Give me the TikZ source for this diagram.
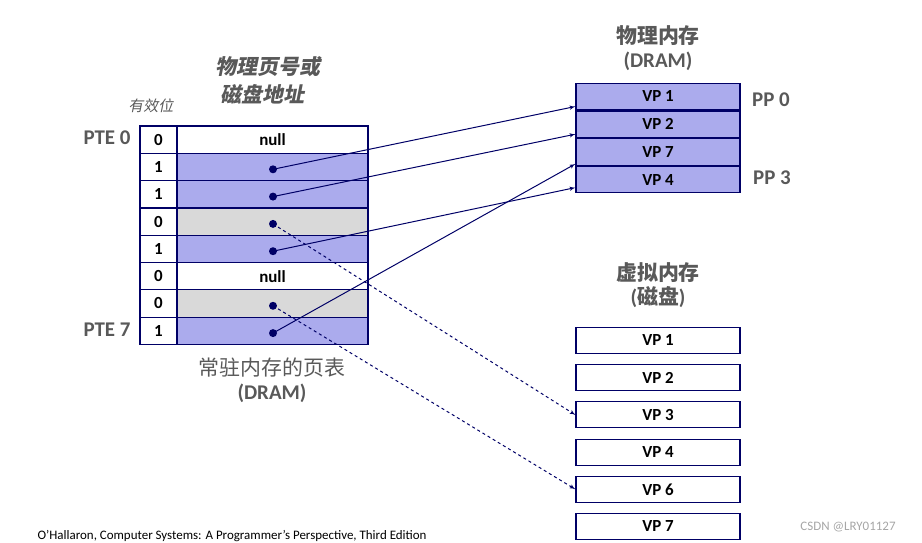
\documentclass[tikz,border=0pt]{standalone}
\usepackage{fontspec}
\setmainfont{Carlito}
\newfontfamily\cjk{Noto Sans CJK SC}
\usetikzlibrary{arrows,shapes,positioning}
\definecolor{vpfill}{rgb}{0.67,0.67,0.93}
\definecolor{swfill}{rgb}{0.85,0.85,0.85}
\definecolor{linkcol}{rgb}{0.0,0.0,0.4}
\definecolor{txtcol}{rgb}{0.35,0.35,0.35}
\tikzset{
  cell/.style={draw=linkcol,line width=1.2pt,minimum height=27.3bp,inner sep=0pt,font=\bfseries\fontsize{17}{19}\selectfont},
  bit/.style={cell,minimum width=37bp},
  entry/.style={cell,minimum width=191bp},
  page/.style={cell,minimum width=164bp,minimum height=26.5bp},
  disk/.style={cell,fill=white,minimum width=164bp,minimum height=26bp},
  caption/.style={text=txtcol,font=\bfseries\fontsize{21}{24}\selectfont,align=center},
  link/.style={->,>=latex',draw=linkcol,line width=1pt},
  dot/.style={circle,fill=linkcol,inner sep=0pt,minimum size=8bp}
}
\begin{document}
\begin{tikzpicture}[x=1bp,y=-1bp]
\useasboundingbox (0,0) rectangle (922,543);

% Node: page table
\foreach \i/\b/\f/\t in {0/0/white/null,1/1/vpfill/,2/1/vpfill/,3/0/swfill/,4/1/vpfill/,5/0/white/null,6/0/swfill/,7/1/vpfill/} {
  \node[bit] (b\i) at (158.5,139.7+27.3*\i) {\b};
  \node[entry,fill=\f] (e\i) at (272.5,139.7+27.3*\i) {\t};
}
\foreach \i in {1,2,3,4,6,7} \node[dot] (d\i) at (273,142+27.3*\i) {};

% Node: DRAM
\node[page,fill=vpfill] (m0) at (658,96.5) {VP 1};
\node[page,fill=vpfill,below=0pt of m0] (m1) {VP 2};
\node[page,fill=vpfill,below=0pt of m1] (m2) {VP 7};
\node[page,fill=vpfill,below=0pt of m2] (m3) {VP 4};

% Node: disk
\foreach \i/\v in {0/1,1/2,2/3,3/4,4/6,5/7}
  \node[disk] (s\i) at (658,340.5+37.2*\i) {VP \v};

% Labels
\node[caption] at (107,138) {PTE 0};
\node[caption] at (107,330) {PTE 7};
\node[caption] at (771,100) {PP 0};
\node[caption] at (772,178) {PP 3};
\node[text=txtcol,font=\cjk\bfseries\fontsize{21}{28}\selectfont,align=center,xslant=0.2] at (267,80) {物理页号或\\磁盘地址};
\node[text=txtcol,font=\cjk\fontsize{15}{18}\selectfont,xslant=0.2] at (152,106) {有效位};
\node[caption] at (272,380) {{\cjk\mdseries 常驻内存的页表}\\(DRAM)};
\node[caption] at (658,48) {{\cjk 物理内存}\\(DRAM)};
\node[caption] at (658,285) {{\cjk 虚拟内存}\\({\cjk 磁盘})};
\node[font=\fontsize{13}{15}\selectfont] at (232,536) {O’Hallaron, Computer Systems: A Programmer’s Perspective, Third Edition};
\node[text=gray!70,font=\fontsize{13}{15}\selectfont] at (848,527) {CSDN @LRY01127};

% Edge: PTE -> DRAM
\draw[link] (d1.center) -- ([yshift=-10bp]m0.west);
\draw[link] (d2.center) -- ([yshift=-10bp]m1.west);
\draw[link] (d4.center) -- ([yshift=-8bp]m3.west);
\draw[link] (d7.center) -- ([yshift=-12bp]m2.west);

% Edge: PTE -> disk
\draw[link,dashed] (d3.center) -- (s2.west);
\draw[link,dashed] (d6.center) -- (s4.west);
\end{tikzpicture}
\end{document}
